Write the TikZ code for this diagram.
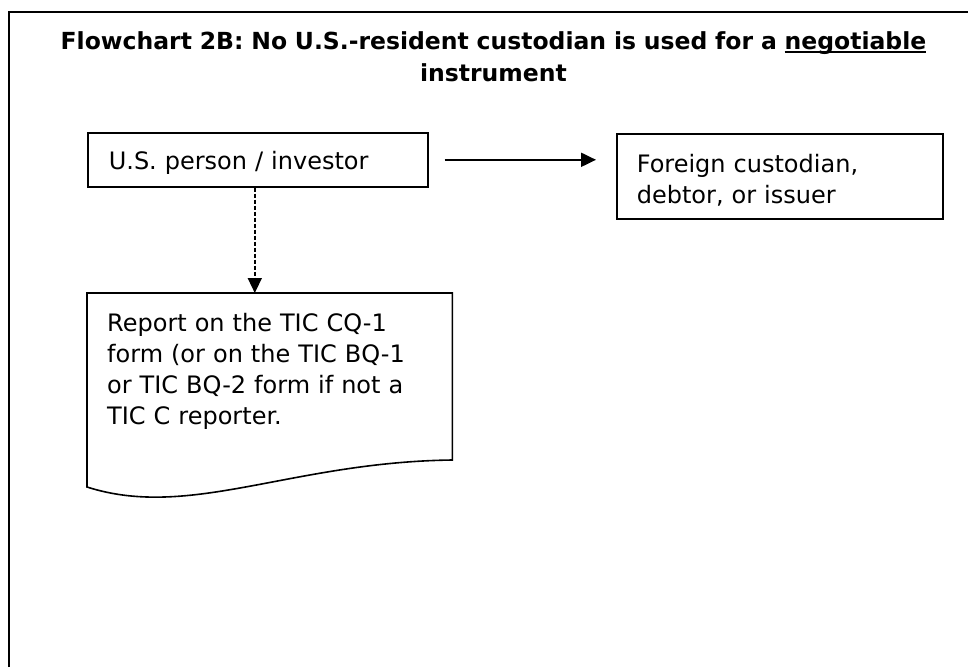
\documentclass[tikz,border=0pt]{standalone}
\usepackage{fontspec}
\setmainfont{DejaVu Sans}
\usepackage{tikz}
\usetikzlibrary{arrows.meta}
\tikzset{>={Triangle[length=15pt,width=14pt]}}
\newcommand{\undertext}[1]{\setbox0\hbox{#1}\rlap{\rule[-3.8pt]{\wd0}{1.8pt}}\box0}

\begin{document}
\begin{tikzpicture}[x=1pt, y=-1pt,
		heading/.style={anchor=base, align=center, text width=900pt, inner sep=0pt, font=\bfseries\fontsize{23.5}{32}\selectfont},
		person/.style={rectangle, draw=black, line width=1.6pt, anchor=north west, align=left, inner ysep=0pt, font=\fontsize{24}{30.5}\selectfont},
		docbox/.style={rectangle, anchor=north west, align=left, inner ysep=0pt, font=\fontsize{24}{31}\selectfont}]
		\useasboundingbox (0,0) rectangle (968,667);
		\draw[black, line width=2pt] (9,667) -- (9,12) -- (968,12);
		
		\node[heading] (head) at (493.5,49) {Flowchart 2B: No U.S.-resident custodian is used for a \undertext{negotiable}\\instrument};
		\node[person, inner xsep=21pt, text width=298pt, text height=37pt, text depth=17pt] (investor) at (87,132) {U.S. person / investor};
		\node[person, inner xsep=20pt, text width=286pt, text height=39pt, text depth=46pt] (foreign) at (616,133) {Foreign custodian,\\debtor, or issuer};
		\node[docbox, inner xsep=20pt, text width=325pt, text height=38pt, text depth=167pt] (report) at (87,293) {Report on the TIC CQ-1\\form (or on the TIC BQ-1\\or TIC BQ-2 form if not a\\TIC C reporter.};
		\draw[black, line width=1.6pt] (report.north west) -- (report.north east) -- ++(0,167)
			.. controls +(-162,2) and +(103,33) .. ([yshift=-194pt]report.north west) -- cycle;
		
		\path (investor.south) ++(-3,0) coordinate (drop);
		\path (investor.east) edge[->, line width=2pt, shorten <=16pt, shorten >=20pt] (investor.east -| foreign.west);
		\path (drop) edge[->, line width=1.5pt, dash pattern=on 4pt off 2pt] (drop |- report.north);
		
	\end{tikzpicture}
\end{document}
